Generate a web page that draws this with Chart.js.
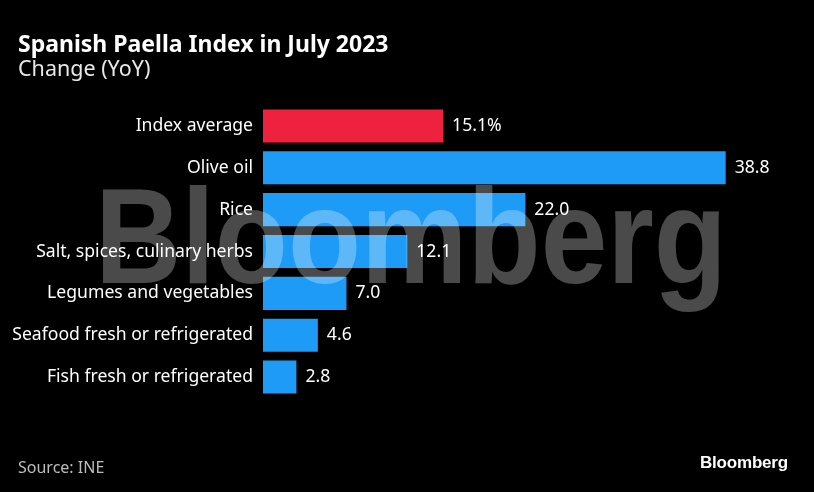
<!DOCTYPE html>
<html>
<head>
<meta charset="utf-8">
<script src="https://cdn.jsdelivr.net/npm/chart.js@4"></script>
<style>
html,body{margin:0;padding:0;background:#000;}
#wrap{position:relative;width:814px;height:492px;background:#000;overflow:hidden;}
canvas{position:absolute;left:0;top:0;}
.t{position:absolute;color:#fff;white-space:nowrap;}
</style>
</head>
<body>
<div id="wrap">
<canvas id="c" width="814" height="492"></canvas>
<div class="t" style="left:18px;top:27px;font:bold 23px 'Noto Sans',sans-serif;">Spanish Paella Index in July 2023</div>
<div class="t" style="left:18px;top:53px;font:21.5px 'Noto Sans',sans-serif;color:#e8e8e8;">Change (YoY)</div>
<div class="t" style="left:18px;top:456px;font:16px 'Noto Sans',sans-serif;color:#bdbdbd;">Source: INE</div>
<div class="t" style="left:700px;top:453px;font:bold 17px 'Liberation Sans',sans-serif;letter-spacing:-0.2px;">Bloomberg</div>
</div>
<script>
const categories = ["Index average","Olive oil","Rice","Salt, spices, culinary herbs","Legumes and vegetables","Seafood fresh or refrigerated","Fish fresh or refrigerated"];
const values = [15.1, 38.8, 22.0, 12.1, 7.0, 4.6, 2.8];
const valueLabels = ["15.1%","38.8","22.0","12.1","7.0","4.6","2.8"];
const RED = "#ee213f", BLUE = "#1d9bf6";
const labelFont = "17.6px 'Noto Sans',sans-serif";

const valuePlugin = {
  id: "vals",
  afterDatasetsDraw(chart) {
    const ctx = chart.ctx;
    const meta = chart.getDatasetMeta(0);
    ctx.save();
    ctx.font = labelFont;
    ctx.fillStyle = "#ffffff";
    ctx.textBaseline = "middle";
    ctx.textAlign = "left";
    meta.data.forEach((bar, i) => {
      ctx.fillText(valueLabels[i], bar.x + 9, bar.y);
    });
    ctx.restore();
  },
  afterDraw(chart) {
    const ctx = chart.ctx;
    ctx.save();
    ctx.font = "bold 135px 'Liberation Sans',sans-serif";
    const w = ctx.measureText("Bloomberg").width;
    const targetW = 632;
    ctx.translate(95, 283);
    ctx.scale(targetW / w, 1);
    ctx.fillStyle = "rgba(255,255,255,0.29)";
    ctx.textBaseline = "alphabetic";
    ctx.fillText("Bloomberg", 0, 0);
    ctx.restore();
  }
};

new Chart(document.getElementById("c"), {
  type: "bar",
  data: {
    labels: categories,
    datasets: [{
      data: values,
      backgroundColor: values.map((v, i) => i === 0 ? RED : BLUE),
      borderWidth: 0,
      categoryPercentage: 1,
      barPercentage: 0.79
    }]
  },
  options: {
    indexAxis: "y",
    responsive: false,
    animation: false,
    devicePixelRatio: 1,
    layout: { padding: { left: 0, top: 105, bottom: 94, right: 74 } },
    plugins: { legend: { display: false }, tooltip: { enabled: false } },
    scales: {
      x: { display: false, min: 0, max: 40 },
      y: {
        afterFit(s) { s.width = 263; },
        grid: { display: false, drawTicks: false },
        border: { display: false },
        ticks: {
          color: "#ffffff",
          padding: 10,
          font: { family: "'Noto Sans',sans-serif", size: 17.6 }
        }
      }
    }
  },
  plugins: [valuePlugin]
});
</script>
</body>
</html>
